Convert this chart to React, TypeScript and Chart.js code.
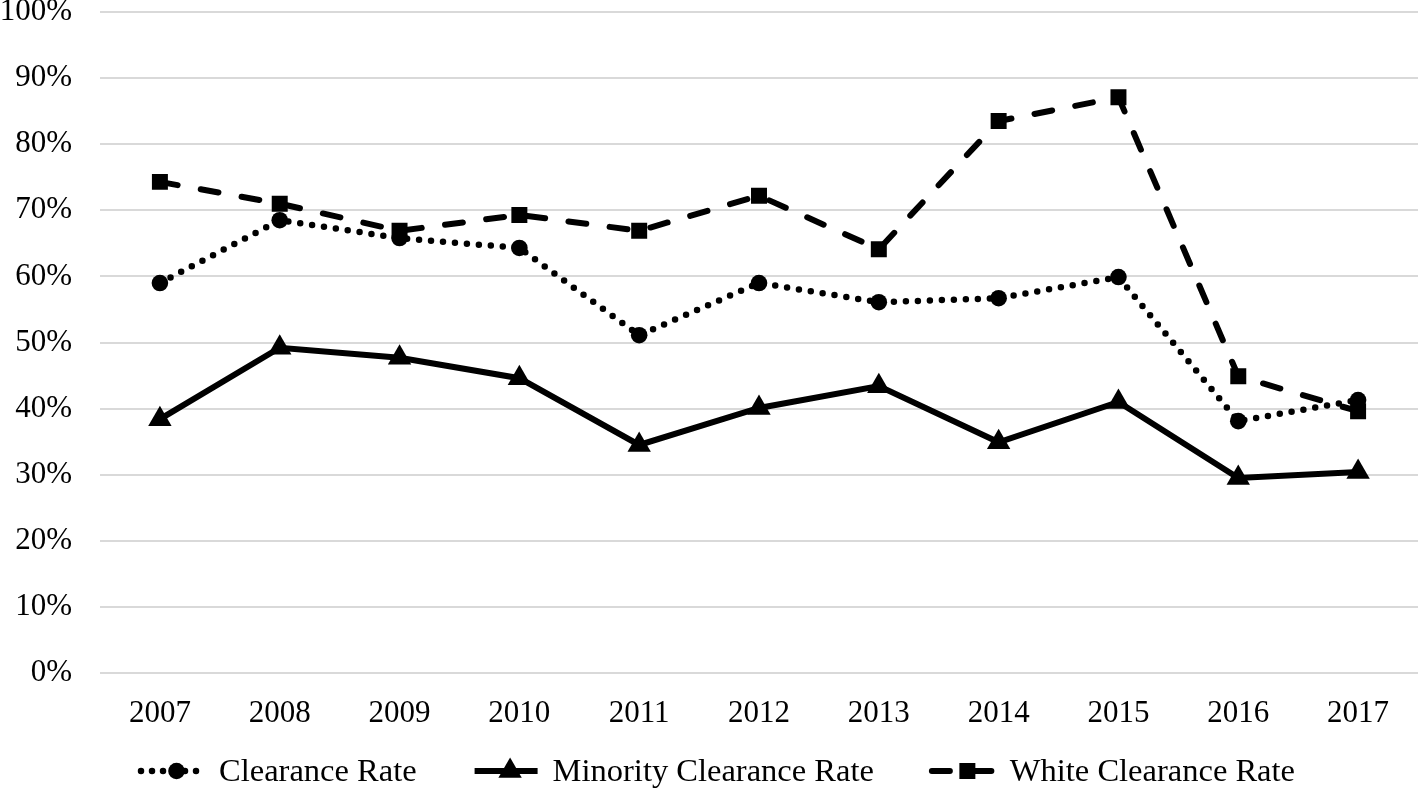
import React, { useEffect, useRef } from "react";
import { Chart, registerables } from "chart.js";

Chart.register(...registerables);

const years = ["2007", "2008", "2009", "2010", "2011", "2012", "2013", "2014", "2015", "2016", "2017"];
const clearanceRate = [59.0, 68.5, 65.8, 64.3, 51.1, 59.0, 56.1, 56.7, 59.9, 38.1, 41.3];
const minorityClearanceRate = [38.4, 49.2, 47.7, 44.6, 34.5, 40.1, 43.4, 34.9, 41.0, 29.5, 30.4];
const whiteClearanceRate = [74.3, 71.0, 66.9, 69.3, 66.9, 72.2, 64.1, 83.5, 87.1, 44.9, 39.6];
const seriesNames = ["Clearance Rate", "Minority Clearance Rate", "White Clearance Rate"];

const FONT = '"Liberation Serif", "Times New Roman", serif';

type LegendSpec = { dash: number[]; width: number; cap: CanvasLineCap; marker: string };
const legendSpecs: LegendSpec[] = [
  { dash: [0, 11], width: 6.5, cap: "round", marker: "circle" },
  { dash: [], width: 6, cap: "butt", marker: "triangle" },
  { dash: [18, 23.5], width: 6, cap: "round", marker: "rect" },
];

function drawMarker(ctx: CanvasRenderingContext2D, kind: string, x: number, y: number) {
  ctx.save();
  ctx.fillStyle = "#000";
  ctx.beginPath();
  if (kind === "circle") {
    ctx.arc(x, y, 8.3, 0, Math.PI * 2);
  } else if (kind === "triangle") {
    const r = 13.5;
    ctx.moveTo(x, y - r);
    ctx.lineTo(x + r * Math.sin((2 * Math.PI) / 3), y - r * Math.cos((2 * Math.PI) / 3));
    ctx.lineTo(x + r * Math.sin((4 * Math.PI) / 3), y - r * Math.cos((4 * Math.PI) / 3));
    ctx.closePath();
  } else {
    ctx.rect(x - 8, y - 8, 16, 16);
  }
  ctx.fill();
  ctx.restore();
}

const legendPlugin = {
  id: "customLegend",
  afterDraw(chart: any) {
    const ctx: CanvasRenderingContext2D = chart.ctx;
    ctx.save();
    ctx.font = `32.5px ${FONT}`;
    const lineLen = 67;
    const gapText = 13;
    const itemGap = 56;
    const widths = seriesNames.map((n) => ctx.measureText(n).width);
    const total = widths.reduce((a, b) => a + b, 0) + seriesNames.length * (lineLen + gapText) + itemGap * (seriesNames.length - 1);
    const cx = chart.width / 2 + 8;
    const y = 771;
    let x = cx - total / 2;
    seriesNames.forEach((name, i) => {
      const s = legendSpecs[i];
      ctx.save();
      ctx.strokeStyle = "#000";
      ctx.lineWidth = s.width;
      ctx.lineCap = s.cap;
      ctx.setLineDash(s.dash);
      ctx.beginPath();
      ctx.moveTo(x + 2, y);
      ctx.lineTo(x + lineLen - 2, y);
      ctx.stroke();
      ctx.restore();
      drawMarker(ctx, s.marker, x + lineLen / 2 + 4, y);
      ctx.fillStyle = "#000";
      ctx.textBaseline = "middle";
      ctx.textAlign = "left";
      ctx.fillText(name, x + lineLen + gapText, y + 1);
      x += lineLen + gapText + widths[i] + itemGap;
    });
    ctx.restore();
  },
};

export default function App() {
  const ref = useRef<HTMLCanvasElement | null>(null);
  useEffect(() => {
    if (!ref.current) return;
    const chart = new Chart(ref.current, {
      type: "line",
      data: {
        labels: years,
        datasets: [
          {
            label: seriesNames[0],
            data: clearanceRate,
            borderColor: "#000",
            backgroundColor: "#000",
            borderWidth: 6.5,
            borderDash: [0, 12],
            borderCapStyle: "round",
            pointStyle: "circle",
            pointRadius: 8.3,
            pointBorderWidth: 0,
            pointBackgroundColor: "#000",
            tension: 0,
          },
          {
            label: seriesNames[1],
            data: minorityClearanceRate,
            borderColor: "#000",
            backgroundColor: "#000",
            borderWidth: 6,
            pointStyle: "triangle",
            pointRadius: 13.5,
            pointBorderWidth: 0,
            pointBackgroundColor: "#000",
            tension: 0,
          },
          {
            label: seriesNames[2],
            data: whiteClearanceRate,
            borderColor: "#000",
            backgroundColor: "#000",
            borderWidth: 6,
            borderDash: [18, 23.5],
            borderCapStyle: "round",
            pointStyle: "rect",
            pointRadius: 11.3,
            pointBorderWidth: 0,
            pointBackgroundColor: "#000",
            tension: 0,
          },
        ],
      },
      options: {
        responsive: false,
        animation: false,
        events: [],
        layout: { autoPadding: false, padding: { top: 12, left: 0, right: 0, bottom: 0 } },
        plugins: {
          legend: { display: false },
          tooltip: { enabled: false },
          title: { display: false },
        },
        scales: {
          x: {
            offset: true,
            grid: { display: false, drawTicks: false },
            border: { display: false },
            ticks: {
              color: "#000",
              padding: 22,
              maxRotation: 0,
              autoSkip: false,
              font: { family: FONT, size: 31 },
            },
            afterFit(scale: any) {
              scale.height = 116;
              scale.paddingLeft = 0;
              scale.paddingRight = 0;
            },
          },
          y: {
            min: 0,
            max: 100,
            grid: { color: "#d9d9d9", lineWidth: 2, drawTicks: false },
            border: { display: false },
            ticks: {
              stepSize: 10,
              color: "#000",
              padding: 28,
              font: { family: FONT, size: 31 },
              callback: (v: any) => `${v}%`,
            },
            afterFit(scale: any) {
              scale.width = 100;
              scale.paddingTop = 0;
              scale.paddingBottom = 0;
            },
          },
        },
      },
      plugins: [legendPlugin],
    });
    return () => chart.destroy();
  }, []);
  return (
    <div style={{ position: "absolute", left: 0, top: 0, width: 1418, height: 789, background: "#fff" }}>
      <canvas ref={ref} width={1418} height={789} style={{ display: "block" }} />
    </div>
  );
}
